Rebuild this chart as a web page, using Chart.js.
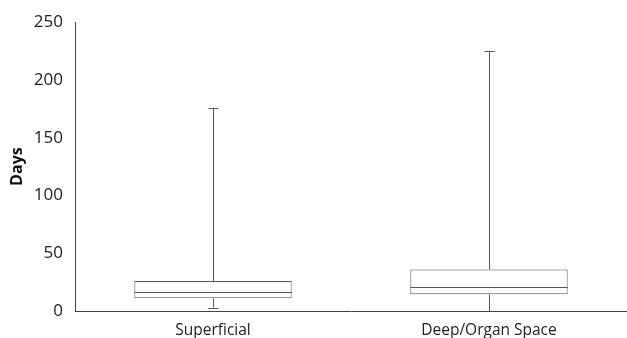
<!DOCTYPE html>
<html>
<head>
<meta charset="utf-8">
<script src="https://cdn.jsdelivr.net/npm/chart.js@4/dist/chart.umd.min.js"></script>
<style>
  html, body { margin: 0; padding: 0; background: #fff; }
  #wrap { width: 627px; height: 338px; }
</style>
</head>
<body>
<div id="wrap"><canvas id="boxChart"></canvas></div>
<script>
const categories = ['Superficial', 'Deep/Organ Space'];
const minValues = [3, 0];
const q1Values = [11, 14.5];
const medianValues = [16.5, 20.5];
const q3Values = [26, 36];
const maxValues = [176, 225];
const yTicks = [0, 50, 100, 150, 200, 250];

const lineColor = '#555';

// whiskers + median drawn on top of the floating bars
const whiskerPlugin = {
    id: 'whiskers',
    afterDatasetsDraw(chart) {
        const ctx = chart.ctx;
        const y = chart.scales.y;
        const meta = chart.getDatasetMeta(0);
        ctx.save();
        ctx.strokeStyle = lineColor;
        ctx.lineWidth = 1;
        meta.data.forEach((bar, i) => {
            const x = Math.round(bar.x) + 0.5;
            const half = bar.width / 2;
            const capHalf = 5;
            const yMin = y.getPixelForValue(minValues[i]);
            const yMax = y.getPixelForValue(maxValues[i]);
            const yQ1 = y.getPixelForValue(q1Values[i]);
            const yQ3 = y.getPixelForValue(q3Values[i]);
            const yMed = Math.round(y.getPixelForValue(medianValues[i])) + 0.5;
            ctx.beginPath();
            ctx.moveTo(x, yQ3);
            ctx.lineTo(x, yMax);
            ctx.moveTo(x - capHalf, Math.round(yMax) + 0.5);
            ctx.lineTo(x + capHalf, Math.round(yMax) + 0.5);
            ctx.moveTo(x, yQ1);
            ctx.lineTo(x, yMin);
            if (minValues[i] > 0) {
                ctx.moveTo(x - capHalf, Math.round(yMin) + 0.5);
                ctx.lineTo(x + capHalf, Math.round(yMin) + 0.5);
            }
            ctx.moveTo(bar.x - half, yMed);
            ctx.lineTo(bar.x + half, yMed);
            ctx.stroke();
        });
        ctx.restore();
    }
};

new Chart(document.getElementById('boxChart').getContext('2d'), {
    type: 'bar',
    data: {
        labels: categories,
        datasets: [{
            label: 'Days',
            data: q1Values.map((q1, i) => [q1, q3Values[i]]),
            backgroundColor: '#fff',
            borderColor: lineColor,
            borderWidth: 1,
            borderSkipped: false,
            barPercentage: 0.57,
            categoryPercentage: 1
        }]
    },
    options: {
        responsive: true,
        maintainAspectRatio: false,
        animation: false,
        layout: { padding: { top: 6, right: 0, bottom: 0, left: 0 } },
        plugins: {
            legend: { display: false },
            tooltip: { enabled: false }
        },
        scales: {
            x: {
                afterFit(scale) { scale.height = 27; },
                grid: { display: false, drawTicks: false },
                border: { display: true, color: '#444', width: 1 },
                ticks: {
                    color: '#222',
                    padding: 10,
                    font: { family: 'Open Sans', size: 15.5 }
                }
            },
            y: {
                min: 0,
                max: 250,
                afterFit(scale) { scale.width = 75; },
                afterBuildTicks(axis) {
                    axis.ticks = yTicks.map(v => ({ value: v }));
                },
                grid: { display: false, drawTicks: false },
                border: { display: true, color: '#444', width: 1 },
                ticks: {
                    color: '#222',
                    padding: 12,
                    font: { family: 'Open Sans', size: 17 }
                },
                title: {
                    display: true,
                    text: 'Days',
                    color: '#111',
                    padding: { top: 8, bottom: 0 },
                    font: { family: 'Open Sans', size: 16, weight: 'bold' }
                }
            }
        }
    },
    plugins: [whiskerPlugin]
});
</script>
</body>
</html>
